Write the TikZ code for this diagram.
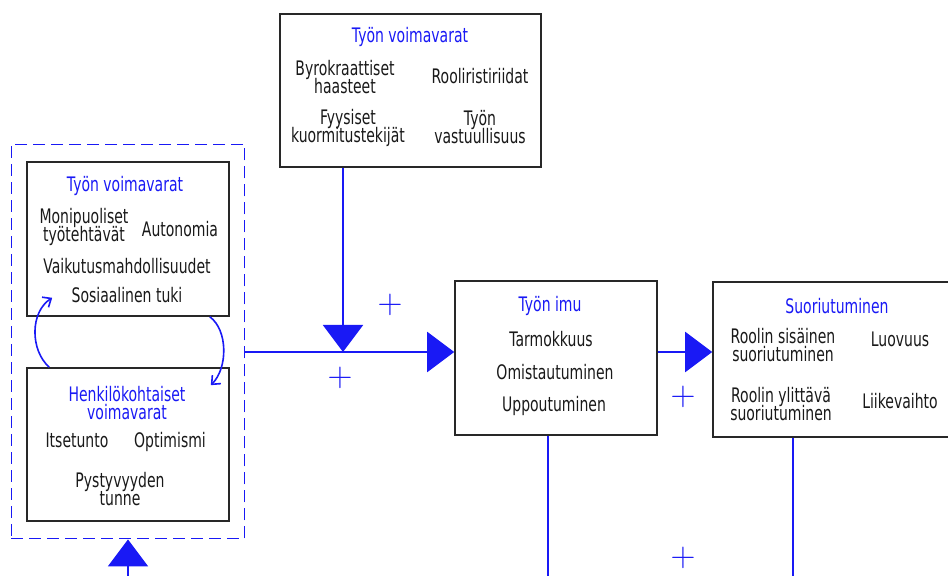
\documentclass[tikz,border=0pt]{standalone}
\usepackage{fontspec}
\setmainfont{DejaVu Sans}[FakeStretch=0.7]
\usetikzlibrary{positioning, arrows.meta, fit}
\definecolor{modelblue}{RGB}{25,25,245}
\definecolor{boxline}{RGB}{40,40,40}
\newcommand\tightlines{\lineskiplimit=-10pt\relax}

\begin{document}
\begin{tikzpicture}[
  x=0.5pt, y=-0.5pt,
  box/.style={rectangle, draw=boxline, line width=0.8pt, minimum width=101pt, minimum height=77pt, inner sep=0pt},
  title/.style={text=modelblue, font=\fontsize{10}{9}\selectfont\tightlines, align=center},
  item/.style={text=black!90, font=\fontsize{10}{9}\selectfont\tightlines, align=center},
  group/.style={draw=modelblue, dash pattern=on 6pt off 3pt, line width=0.65pt, inner xsep=7.5pt, inner ysep=8.5pt},
  flow/.style={draw=modelblue, line width=1pt, -{Triangle[length=13.5pt, width=20pt]}},
  link/.style={draw=modelblue, line width=1pt},
  cycle/.style={draw=modelblue, line width=0.8pt, -{Straight Barb[length=3.5pt, width=6pt]}},
  plus/.style={text=modelblue, font=\fontsize{16}{16}\selectfont}
]
  \useasboundingbox (0,0) rectangle (948,576);
  \clip (0,0) rectangle (948,576);

  % boxes
  \node[box, minimum width=130.5pt, minimum height=76.5pt] (hind) at (410.5,90.5) {};
  \node[box] (tyov) at (128,239) {};
  \node[box, minimum height=76.5pt] (henk) at (128,444.5) {};
  \node[box] (imu) at (556,358) {};
  \node[box, minimum width=125pt, minimum height=77.5pt] (suor) at (838,359.5) {};
  \node[group, fit=(tyov)(henk)] (voim) {};

  % texts
  \node[title] (hindt) at (410,37) {Työn voimavarat};
  \node[item] (byro) at (345,77) {Byrokraattiset\\haasteet};
  \node[item] (rool) at (480,76) {Rooliristiriidat};
  \node[item] (fyys) at (348,128) {Fyysiset\\kuormitustekijät};
  \node[item] (vast) at (480,127) {Työn\\vastuullisuus};

  \node[title] (tyovt) at (125,186) {Työn voimavarat};
  \node[item] (moni) at (84,227) {Monipuoliset\\työtehtävät};
  \node[item] (auto) at (180,229) {Autonomia};
  \node[item] (vaik) at (127,266) {Vaikutusmahdollisuudet};
  \node[item] (sosi) at (127,295) {Sosiaalinen tuki};

  \node[title] (henkt) at (127,403) {Henkilökohtaiset\\voimavarat};
  \node[item] (itse) at (77,440) {Itsetunto};
  \node[item] (opti) at (170,442) {Optimismi};
  \node[item] (pyst) at (120,489) {Pystyvyyden\\tunne};

  \node[title] (imut) at (550,306) {Työn imu};
  \node[item] (tarm) at (551,339) {Tarmokkuus};
  \node[item] (omis) at (555,372) {Omistautuminen};
  \node[item] (uppo) at (554,406) {Uppoutuminen};

  \node[title] (suort) at (837,306) {Suoriutuminen};
  \node[item] (sisa) at (783,345) {Roolin sisäinen\\suoriutuminen};
  \node[item] (luov) at (900,339) {Luovuus};
  \node[item] (ylit) at (781,404) {Roolin ylittävä\\suoriutuminen};
  \node[item] (liik) at (900,401) {Liikevaihto};

  \node[plus] (p1) at (390,305) {$+$};
  \node[plus] (p2) at (340,378) {$+$};
  \node[plus] (p3) at (683,397) {$+$};
  \node[plus] (p4) at (683,558) {$+$};

  % connectors
  \coordinate (join) at (343,352);
  \coordinate (imuout) at (548,590);
  \coordinate (suorout) at (793,590);
  \coordinate (voimin) at (128,590);

  \draw[flow] (hind.south -| join) -- (join);
  \draw[flow] (voim.east |- join) -- (imu.west |- join);
  \draw[flow] (imu.east |- join) -- (suor.west |- join);
  \draw[link] (imu.south -| imuout) -- (imuout);
  \draw[link] (suor.south -| suorout) -- (suorout);
  \draw[flow] (voimin) -- (voim.south -| voimin);

  \draw[cycle] ([xshift=11.5pt]henk.north west) .. controls (30,350) and (30,312) .. ([xshift=13pt,yshift=9.5pt]tyov.south west);
  \draw[cycle] ([xshift=-10pt]tyov.south east) .. controls (228,330) and (228,368) .. ([xshift=-9.5pt,yshift=-9pt]henk.north east);
\end{tikzpicture}
\end{document}
